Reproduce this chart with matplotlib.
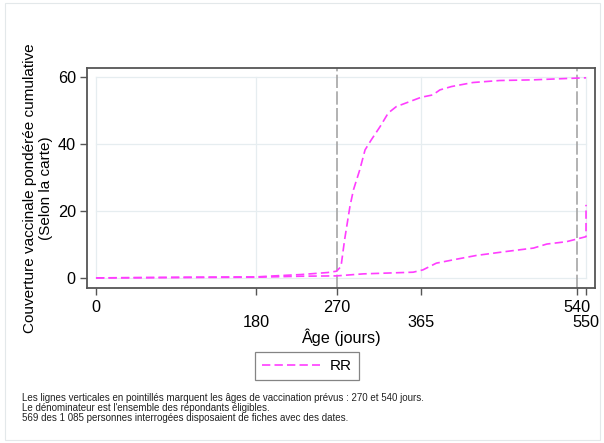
import matplotlib.pyplot as plt
from matplotlib.patches import Rectangle

plt.rcParams["font.family"] = ["Liberation Sans", "DejaVu Sans"]

# data (age in days, weighted cumulative coverage %)
age_dose1 = [0, 100, 180, 200, 230, 260, 270, 275, 279, 285, 289, 296, 302,
             309, 319, 328, 337, 352, 365, 378, 386, 399, 423, 453, 491,
             528, 550]
cov_dose1 = [0, 0.2, 0.3, 0.6, 1.0, 1.6, 2.0, 3.4, 11.3, 21.3, 26.3, 32.2,
             38.2, 41.2, 45.2, 49.2, 51.1, 52.6, 53.9, 54.6, 56.1, 57.1,
             58.3, 58.9, 59.1, 59.5, 59.7]

age_dose2 = [0, 180, 230, 270, 300, 356, 367, 382, 405, 427, 461, 491, 506,
             528, 547, 550, 550]
cov_dose2 = [0, 0.2, 0.5, 0.6, 1.2, 1.7, 2.4, 4.4, 5.6, 6.7, 7.9, 8.9, 10.1,
             10.8, 12.1, 12.3, 21.8]

x_ticks_top = [0, 270, 540]
x_ticks_low = [180, 365, 550]
y_ticks = [0, 20, 40, 60]
sched_ages = [270, 540]

notes = [
    "Les lignes verticales en pointillés marquent les âges de vaccination prévus : 270 et 540 jours.",
    "Le dénominateur est l'ensemble des répondants éligibles.",
    "569 des 1 085 personnes interrogées disposaient de fiches avec des dates.",
]

MAGENTA = "#ff3dff"
FRAME = "#555555"
FS = 11.7

fig = plt.figure(figsize=(6.04, 4.43), dpi=100)
fig.patches.append(Rectangle((0.008, 0.006), 0.985, 0.987, transform=fig.transFigure,
                             fill=False, edgecolor="#e3e8ea", linewidth=0.8))
ax = fig.add_axes([0.144, 0.350, 0.841, 0.497])

# light grid + inner plot region
for v in [0, 180, 365, 550]:
    ax.plot([v, v], [0, 60], color="#e6edf0", linewidth=0.9, zorder=0)
for v in y_ticks:
    ax.plot([0, 550], [v, v], color="#e6edf0", linewidth=0.9, zorder=0)

for a in sched_ages:
    ax.axvline(a, color="#a6a6a6", linewidth=1.2, dashes=(8, 2), zorder=1)

ax.plot(age_dose1, cov_dose1, color=MAGENTA, linewidth=1.2, dashes=(5, 2.5),
        label="RR", zorder=2)
ax.plot(age_dose2, cov_dose2, color=MAGENTA, linewidth=1.2, dashes=(5, 2.5),
        zorder=2)

ax.set_xlim(-10.1, 560)
ax.set_ylim(-3.0, 62.7)
# staggered x labels: upper row on major ticks, lower row on minor ticks
ax.set_xticks(x_ticks_top)
ax.set_xticklabels([str(v) for v in x_ticks_top], fontsize=FS)
ax.set_xticks(x_ticks_low, minor=True)
ax.set_xticklabels([str(v) for v in x_ticks_low], minor=True, fontsize=FS)
ax.set_yticks(y_ticks)
ax.set_yticklabels([str(v) for v in y_ticks], fontsize=FS)
ax.tick_params(axis="both", which="both", direction="out", length=5,
               width=1.0, color=FRAME)
ax.tick_params(axis="x", which="major", pad=3.6)
ax.tick_params(axis="x", which="minor", pad=14.4)
ax.tick_params(axis="y", pad=3)
for sp in ax.spines.values():
    sp.set_color(FRAME)
    sp.set_linewidth(1.3)

ax.set_xlabel("Âge (jours)", fontsize=FS)
ax.xaxis.set_label_coords(0.5, -0.182)
ax.set_ylabel("Couverture vaccinale pondérée cumulative\n(Selon la carte)",
              fontsize=11)
ax.yaxis.set_label_coords(-0.066, 0.455)

leg = fig.legend(loc="center", bbox_to_anchor=(0.508, 0.174), fontsize=11,
                 handlelength=3.8, fancybox=False, frameon=True,
                 borderpad=0.45, handletextpad=0.65)
leg.get_frame().set_edgecolor("#666666")
leg.get_frame().set_linewidth(0.9)

for i, line in enumerate(notes):
    fig.text(0.036, 0.1015 - i * 0.0226, line, fontsize=7.0, va="center",
             ha="left", color="#222222")

fig.savefig("out.png", dpi=100)
